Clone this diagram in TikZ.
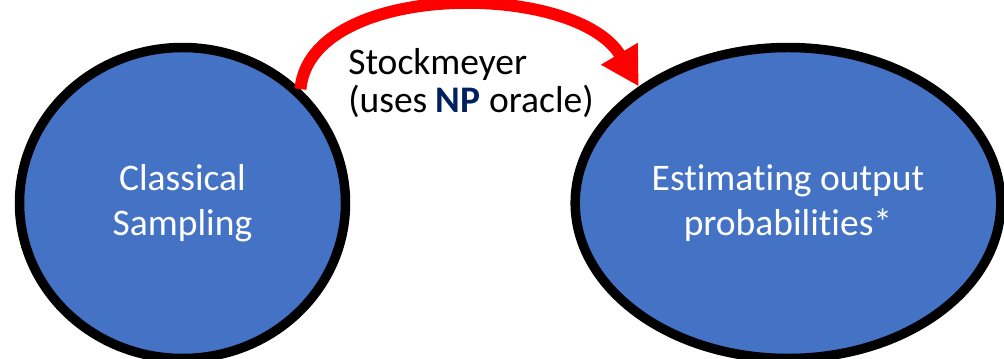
\documentclass[tikz,border=0pt]{standalone}
\usepackage{fontspec}
\setmainfont{Carlito}[Ligatures=NoCommon]
\usetikzlibrary{shapes.geometric,arrows.meta}
\definecolor{blobblue}{HTML}{4472C4}
\definecolor{npblue}{HTML}{002060}
\begin{document}
\begin{tikzpicture}[
    blob/.style={ellipse, draw=black, fill=blobblue, line width=6.75pt, inner sep=0pt,
        minimum height=7.775cm, text=white, align=center,
        font={\fontsize{26.7}{32.3}\selectfont}},
    stockarrow/.style={draw=red, line width=8.5pt, -{Triangle[length=0.95cm, width=1.0cm]}}
]
\useasboundingbox (0,0) rectangle (25.1,8.975);
\node[blob, minimum width=8.15cm] (sampling) at (4.5625,3.9) {Classical\\Sampling};
\node[blob, minimum width=10.64cm] (estimating) at (19.7,3.9) {Estimating output\\probabilities*};
\draw[stockarrow] (sampling.44) .. controls +(0.25,2.72) and +(-1.575,2.65) .. (estimating.142);
\node[anchor=north west, align=left, inner sep=0pt, font={\fontsize{26.7}{26.9}\selectfont}] (stock) at (8.7,7.775)
    {Stockmeyer\\(uses \textbf{\color{npblue}NP} oracle)};
\end{tikzpicture}
\end{document}
